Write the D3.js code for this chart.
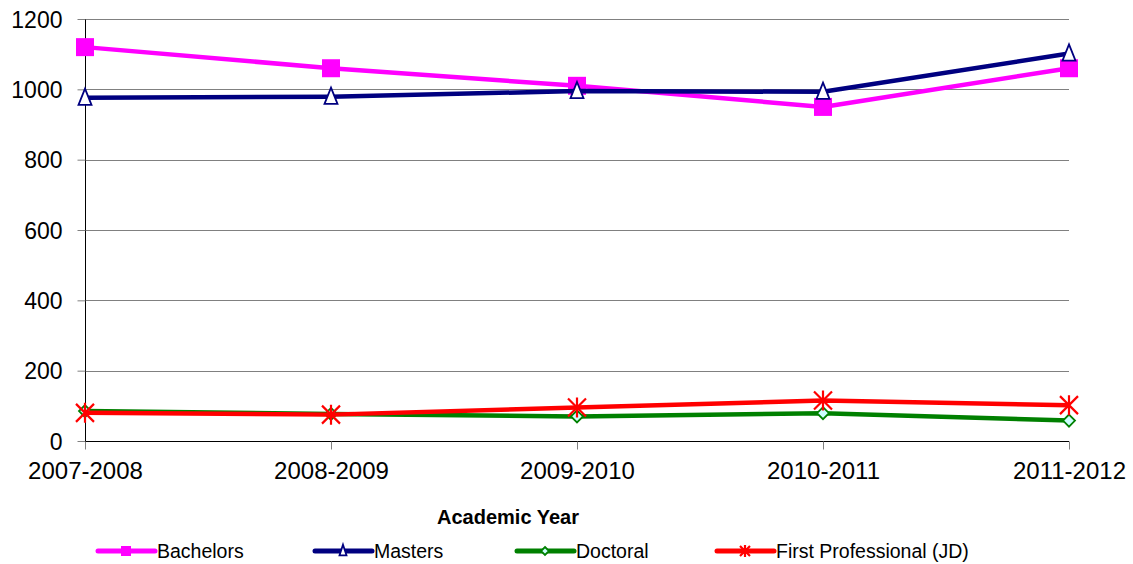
<!DOCTYPE html>
<html><head><meta charset="utf-8">
<script src="https://cdn.jsdelivr.net/npm/d3@7"></script>
<style>
html,body{margin:0;padding:0;background:#fff;}
svg text{font-family:"Liberation Sans",Arial,sans-serif;fill:#000;}
</style></head>
<body><svg id="chart" width="1133" height="564"></svg>
<script>
const years = ["2007-2008","2008-2009","2009-2010","2010-2011","2011-2012"];
const bachelors = [1120,1060,1010,950,1060];
const masters = [976,979,995,993,1102];
const doctoral = [85,77,70,79,58];
const firstProfessional = [80,75,95,115,102];
const yTicks = [0,200,400,600,800,1000,1200];

const series = [
  {name:"Bachelors", values:bachelors, color:"#FF00FF", marker:"square"},
  {name:"Masters", values:masters, color:"#000080", marker:"triangle"},
  {name:"Doctoral", values:doctoral, color:"#008000", marker:"diamond"},
  {name:"First Professional (JD)", values:firstProfessional, color:"#FF0000", marker:"star"}
];

const svg = d3.select("#chart");
const mLeft = 85, mRight = 1069, mTop = 19, mBottom = 441;
const x = d3.scalePoint().domain(years).range([mLeft,mRight]).padding(0);
const y = d3.scaleLinear().domain([0,1200]).range([mBottom,mTop]);

// gridlines
svg.append("g").selectAll("line").data(yTicks.filter(d=>d>0)).join("line")
  .attr("x1",mLeft).attr("x2",mRight).attr("y1",d=>Math.round(y(d))+0.5).attr("y2",d=>Math.round(y(d))+0.5)
  .attr("stroke","#808080").attr("stroke-width",1);

// y axis
const yAxis = svg.append("g").attr("transform",`translate(${mLeft+0.5},0)`)
  .call(d3.axisLeft(y).tickValues(yTicks).tickSize(8).tickPadding(15).tickFormat(d3.format("d")));
yAxis.select(".domain").attr("stroke","#000").attr("d",`M0,${mTop}V${mBottom}`);
yAxis.selectAll(".tick line").attr("stroke","#808080");
yAxis.selectAll(".tick text").style("font-size","23px").attr("dy","0.35em");

// x axis
const xAxis = svg.append("g").attr("transform",`translate(0,${mBottom+0.5})`)
  .call(d3.axisBottom(x).tickSize(8).tickPadding(8));
xAxis.select(".domain").attr("stroke","#000").attr("d",`M${mLeft},0H${mRight}`);
xAxis.selectAll(".tick line").attr("stroke","#808080");
xAxis.selectAll(".tick text").style("font-size","24px").attr("dy","0.71em").attr("y",20);

// title
svg.append("text").attr("x",508).attr("y",524).attr("text-anchor","middle")
  .style("font-size","20px").style("font-weight","bold").text("Academic Year");

function drawMarker(g, type, cx, cy, color, s){
  if(type==="square"){
    g.append("rect").attr("x",cx-s/2).attr("y",cy-s/2).attr("width",s).attr("height",s).attr("fill",color);
  } else if(type==="triangle"){
    const h=s*0.95;
    g.append("path").attr("d",`M${cx},${cy-h/2-2}L${cx+s/2-1},${cy+h/2}L${cx-s/2+1},${cy+h/2}Z`)
      .attr("fill","#fff").attr("stroke",color).attr("stroke-width",1.8);
  } else if(type==="diamond"){
    g.append("path").attr("d",`M${cx},${cy-s/2}L${cx+s/2},${cy}L${cx},${cy+s/2}L${cx-s/2},${cy}Z`)
      .attr("fill","#CCFFFF").attr("stroke",color).attr("stroke-width",1.8);
  } else if(type==="star"){
    const r=s/2;
    g.append("path").attr("d",`M${cx-r},${cy-r}L${cx+r},${cy+r}M${cx+r},${cy-r}L${cx-r},${cy+r}M${cx},${cy-r-1}L${cx},${cy+r+1}`)
      .attr("stroke",color).attr("stroke-width",2.2).attr("fill","none");
  }
}

const line = d3.line().x((d,i)=>x(years[i])).y(d=>y(d));
const markerSize = {square:18, triangle:15, diamond:12, star:18};
series.forEach(s=>{
  const g = svg.append("g");
  g.append("path").datum(s.values).attr("d",line).attr("fill","none")
    .attr("stroke",s.color).attr("stroke-width",4.5).attr("stroke-linejoin","round");
  s.values.forEach((v,i)=>drawMarker(g,s.marker,x(years[i]),y(v),s.color,markerSize[s.marker]));
});

// legend
const legendX = [98,315,517,717];
const ly = 551;
const legendMarkerSize = {square:10, triangle:9, diamond:8, star:10};
series.forEach((s,i)=>{
  const g = svg.append("g");
  const x0 = legendX[i];
  g.append("line").attr("x1",x0).attr("x2",x0+57).attr("y1",ly).attr("y2",ly)
    .attr("stroke",s.color).attr("stroke-width",5).attr("stroke-linecap","round");
  drawMarker(g,s.marker,x0+28,ly,s.color,legendMarkerSize[s.marker]);
  g.append("text").attr("x",x0+59).attr("y",ly).attr("dy","0.35em")
    .style("font-size","19.5px").text(s.name);
});
</script></body></html>
